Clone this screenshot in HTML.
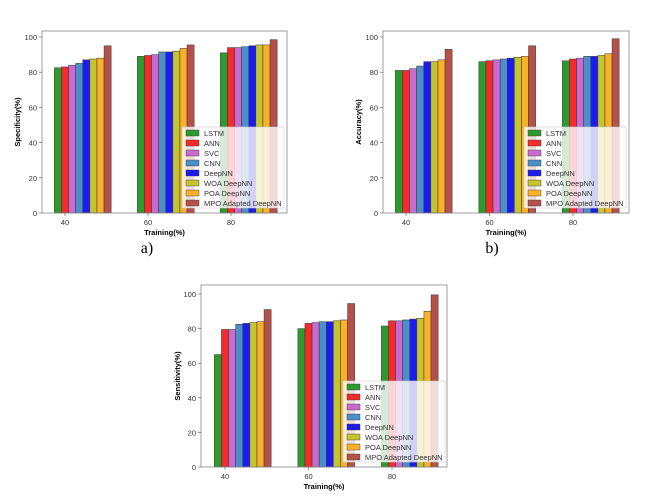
<!DOCTYPE html>
<html><head><meta charset="utf-8">
<style>
body{margin:0;background:#fff;width:663px;height:496px;overflow:hidden;font-family:"Liberation Sans",sans-serif}
svg{position:absolute;left:0;top:0}
</style></head>
<body>
<svg id="svg" width="663" height="496"></svg>
<script>
const categories = ["40","60","80"];
const seriesNames = ["LSTM","ANN","SVC","CNN","DeepNN","WOA DeepNN","POA DeepNN","MPO Adapted DeepNN"];
const seriesColors = ["#2e9a2e","#f52a2a","#c86ad0","#4b8fc8","#1c1cf0","#c4c42e","#fbb02a","#b5504a"];
const yTicks = [0,20,40,60,80,100];
const specificity = [
 [82.5,89,91],[83,89.5,94],[84,90,94],[85,91.5,94.5],[87,91.5,95],[87.5,92,95.5],[88,93.5,95.5],[95,95.5,98.5]
];
const accuracy = [
 [81,86,86.5],[81,86.5,87.5],[82,87,88],[83.5,87.5,89],[86,88,89],[86,88.5,89.5],[87,89,90.5],[93,95,99]
];
const sensitivity = [
 [65,80,81.5],[79.5,83,84.5],[79.5,83.5,84.5],[82.5,84,85],[83,84,85.5],[83.5,84.5,86],[84,85,90],[91,94.5,99.5]
];
const NS="http://www.w3.org/2000/svg";
const svg=document.getElementById('svg');
function mk(tag,attrs,parent,text){const e=document.createElementNS(NS,tag);for(const k in attrs)e.setAttribute(k,attrs[k]);if(text!==undefined)e.textContent=text;(parent||svg).appendChild(e);return e;}

function chart(cfg,data){
  const g=mk('g',{});
  
  
  const y=v=>cfg.y0-(cfg.y0-cfg.y100)*v/100;
  const bw=7.1;
  const xTick=i=>cfg.xt0+i*cfg.dx;
  // bars
  data.forEach((ser,s)=>{ser.forEach((v,i)=>{
    const cx=xTick(i)+(s-1)*bw;
    const r=mk('rect',{x:cx-bw/2,y:y(v),width:bw,height:cfg.y0-y(v),fill:seriesColors[s],stroke:'#333','stroke-width':0.5},g);
    
    
  });});
  // frame
  const f=mk('rect',{x:cfg.left,y:cfg.top,width:cfg.right-cfg.left,height:cfg.y0-cfg.top,fill:'none',stroke:'#888','stroke-width':0.8},g);
  
  
  yTicks.forEach(t=>{
    mk('line',{x1:cfg.left-3,x2:cfg.left,y1:y(t),y2:y(t),stroke:'#555','stroke-width':0.6},g);
    const tx=mk('text',{x:cfg.left-5,y:y(t)+3,'font-size':7.5,'text-anchor':'end',fill:'#333'},g,t);
    
    
  });
  categories.forEach((c,i)=>{
    mk('line',{x1:xTick(i),x2:xTick(i),y1:cfg.y0,y2:cfg.y0+3,stroke:'#555','stroke-width':0.6},g);
    const tx=mk('text',{x:xTick(i),y:cfg.y0+12,'font-size':7.5,'text-anchor':'middle',fill:'#333'},g,c);
    
    
  });
  const yl=mk('text',{x:cfg.ylx,y:(cfg.top+cfg.y0)/2,'font-size':7.5,'font-weight':'bold','text-anchor':'middle',transform:`rotate(-90 ${cfg.ylx} ${(cfg.top+cfg.y0)/2})`},g,cfg.ylabel);
  
  
  const xl=mk('text',{x:(cfg.left+cfg.right)/2,y:cfg.y0+22,'font-size':7.5,'font-weight':'bold','text-anchor':'middle'},g,'Training(%)');
  
  
  // legend
  const lg=mk('g',{},g);
  
  
  mk('rect',{x:cfg.lx,y:cfg.ly,width:102,height:81,fill:'#fff','fill-opacity':0.8,stroke:'#ccc','stroke-width':0.6},lg);
  seriesNames.forEach((n,s)=>{
    const yy=cfg.ly+6+s*10;
    const sw=mk('rect',{x:cfg.lx+4,y:yy-3,width:13,height:6,fill:seriesColors[s],stroke:'#333','stroke-width':0.4},lg);
    
    
    const t=mk('text',{x:cfg.lx+22,y:yy+3,'font-size':7.5,fill:'#333'},lg,n);
    
    
  });
  if(cfg.cap){const c=mk('text',{x:cfg.capx,y:253,'font-size':16,'font-family':'Liberation Serif, serif','text-anchor':'middle'},g,cfg.cap);
    
    }
}
chart({name:'specificity-chart',left:42,right:287,top:31,y0:213,y100:37,xt0:65,dx:83,ylx:20,ylabel:'Specificity(%)',lx:182,ly:127,cap:'a)',capx:147},specificity);
chart({name:'accuracy-chart',left:383,right:629,top:31,y0:213,y100:37,xt0:406,dx:83.5,ylx:361,ylabel:'Accuracy(%)',lx:524,ly:127,cap:'b)',capx:492},accuracy);
chart({name:'sensitivity-chart',left:201,right:447,top:285,y0:467,y100:294,xt0:225,dx:83.5,ylx:180,ylabel:'Sensitivity(%)',lx:343,ly:381},sensitivity);
</script>
</body></html>
